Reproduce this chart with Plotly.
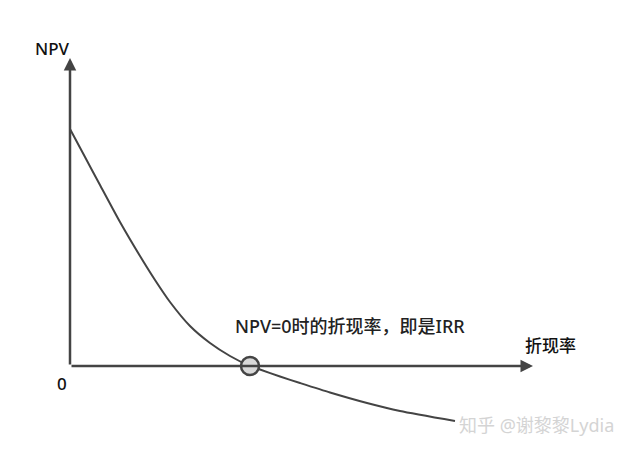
import plotly.graph_objects as go

# Discount rate (x) and NPV (y) values
rate = [0, 1.5, 3.0, 5.0, 7.0, 8.5, 10.0, 12.0, 14.0, 16.0, 18.0, 19.0, 21.0, 23.0, 26.0, 29.7, 33.0, 38.5]
npv = [23.7, 20.9, 18.1, 14.4, 11.0, 8.6, 6.4, 4.0, 2.3, 1.0, 0.0, -0.35, -1.05, -1.7, -2.65, -3.7, -4.5, -5.5]

irr_rate = [18.0]
irr_npv = [0.0]

axis_x_end = 46.3
axis_y_end = 30.8

line_col = "#444444"
font_fam = "Noto Sans, Noto Sans CJK SC, sans-serif"

fig = go.Figure()
fig.add_trace(go.Scatter(x=rate, y=npv, mode="lines",
                         line=dict(color=line_col, width=2, shape="spline", smoothing=0.6),
                         hoverinfo="skip", showlegend=False))

# axes with arrows
fig.add_annotation(x=axis_x_end, y=0, ax=0, ay=0, xref="x", yref="y", axref="x", ayref="y",
                   showarrow=True, arrowhead=2, arrowsize=1, arrowwidth=2.5, arrowcolor=line_col, text="")
fig.add_annotation(x=0, y=axis_y_end, ax=0, ay=0, xref="x", yref="y", axref="x", ayref="y",
                   showarrow=True, arrowhead=2, arrowsize=1, arrowwidth=2.5, arrowcolor=line_col, text="")

fig.add_trace(go.Scatter(x=irr_rate, y=irr_npv, mode="markers",
                         marker=dict(size=18, color="#d9d9d9", line=dict(color=line_col, width=2.5)),
                         hoverinfo="skip", showlegend=False))

fig.add_annotation(x=-1.8, y=31.8, text="NPV", showarrow=False,
                   font=dict(size=17, color="#111", family=font_fam, weight=500))
fig.add_annotation(x=-0.8, y=-1.7, text="0", showarrow=False,
                   font=dict(size=17, color="#111", family=font_fam, weight=500))
fig.add_annotation(x=48.0, y=2.1, text="折现率", showarrow=False,
                   font=dict(size=17, color="#111", family=font_fam, weight=500))
fig.add_annotation(x=28.0, y=4.0, text="NPV=0时的折现率，即是IRR", showarrow=False,
                   font=dict(size=18, color="#222", family=font_fam, weight=500))
fig.add_annotation(x=46.6, y=-5.9, text="知乎 @谢黎黎Lydia", showarrow=False,
                   font=dict(size=18, color="#d4d4d4", family=font_fam))

fig.update_xaxes(range=[-6.2, 55.6], visible=False)
fig.update_yaxes(range=[-7.8, 35.8], visible=False)
fig.update_layout(width=618, height=436, margin=dict(l=0, r=0, t=0, b=0),
                  plot_bgcolor="white", paper_bgcolor="white")

fig.write_html("out.html")
